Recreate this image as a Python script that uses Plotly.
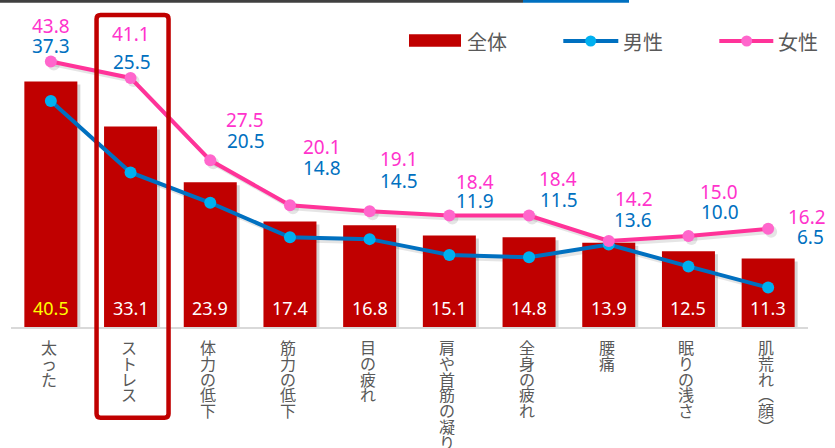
import plotly.graph_objects as go

# ---------------- data ----------------
categories = ["太った", "ストレス", "体力の低下", "筋力の低下", "目の疲れ",
              "肩や首筋の凝り", "全身の疲れ", "腰痛", "眠りの浅さ", "肌荒れ（顔）"]
total = [40.5, 33.1, 23.9, 17.4, 16.8, 15.1, 14.8, 13.9, 12.5, 11.3]
male = [37.3, 25.5, 20.5, 14.8, 14.5, 11.9, 11.5, 13.6, 10.0, 6.5]
female = [43.8, 41.1, 27.5, 20.1, 19.1, 18.4, 18.4, 14.2, 15.0, 16.2]
series_names = ["全体", "男性", "女性"]
highlight_index = 1

# ---------------- layout constants ----------------
W, H = 835, 448
L, R, T, B = 11, 27, 20, 121
PLOT_W = W - L - R
PLOT_H = H - T - B
PX_PER_UNIT = 6.06
YMAX = PLOT_H / PX_PER_UNIT
BAND = PLOT_W / len(categories)

BAR_COLOR = "#c00000"
MALE_LINE, MALE_MARK, MALE_TEXT = "#0070c0", "#00b0f0", "#0070c0"
FEM_LINE, FEM_MARK, FEM_TEXT = "#ff3399", "#ff66cc", "#ff33cc"
GRAY_TEXT = "#595959"
NUM_FONT = "Noto Sans, Open Sans, sans-serif"
JP_FONT = "Noto Sans CJK JP, sans-serif"

# label offsets in pixels (relative to the female point)
fem_label_shift = [(0, 36), (0, 44), (35, 40), (32, 58), (29, 52),
                   (26, 34), (29, 37), (25, 42), (31, 44), (39, 12)]
male_label_shift = [(0, 16), (1.5, 16), (36, 19.5), (32, 37), (29, 30),
                    (26, 14.5), (30, 15.5), (24, 20.5), (31.5, 24), (42, -8.5)]
bar_label_colors = ["#ffff00"] + ["#ffffff"] * (len(categories) - 1)

CHAR_STEP = 15.8      # vertical distance between stacked characters
CHAR_SIZE = 16        # glyph size of the category labels


def pxX(x):
    return (x - L) / PLOT_W


def pxY(y):
    return (H - B - y) / PLOT_H


# shadow offsets (pixels)
SDX, SDY = 3, 3
sdx = SDX / BAND
sdy = SDY / PX_PER_UNIT

idx = list(range(len(categories)))
fig = go.Figure()

# ---- shadows (base axes) ----
fig.add_trace(go.Bar(x=idx, y=total, marker=dict(color="rgba(0,0,0,0.16)", line=dict(width=0)),
                     xaxis="x", yaxis="y", hoverinfo="skip", showlegend=False))
for vals in (male, female):
    fig.add_trace(go.Scatter(x=idx, y=vals, mode="lines+markers",
                             line=dict(color="rgba(0,0,0,0.10)", width=4),
                             marker=dict(size=12, color="rgba(0,0,0,0.10)"),
                             xaxis="x", yaxis="y", hoverinfo="skip", showlegend=False))

# ---- main traces ----
fig.add_trace(go.Bar(name=series_names[0], x=categories, y=total,
                     marker=dict(color=BAR_COLOR, line=dict(width=0)),
                     xaxis="x2", yaxis="y2", showlegend=False))
fig.add_trace(go.Scatter(name=series_names[1], x=categories, y=male, mode="lines+markers",
                         line=dict(color=MALE_LINE, width=4),
                         marker=dict(size=12, color=MALE_MARK),
                         xaxis="x2", yaxis="y2", showlegend=False))
fig.add_trace(go.Scatter(name=series_names[2], x=categories, y=female, mode="lines+markers",
                         line=dict(color=FEM_LINE, width=4),
                         marker=dict(size=12, color=FEM_MARK),
                         xaxis="x2", yaxis="y2", showlegend=False))

annotations = []
# bar value labels
for c, v, col in zip(categories, total, bar_label_colors):
    annotations.append(dict(x=c, y=0, xref="x2", yref="y2", text=f"{v:.1f}", showarrow=False,
                            yshift=19.5, yanchor="middle", xanchor="center",
                            font=dict(family=NUM_FONT, size=18, color=col)))
# line value labels
for c, f, m, fs, ms in zip(categories, female, male, fem_label_shift, male_label_shift):
    annotations.append(dict(x=c, y=f, xref="x2", yref="y2", text=f"{f:.1f}", showarrow=False,
                            xshift=fs[0], yshift=fs[1], yanchor="middle", xanchor="center",
                            font=dict(family=NUM_FONT, size=19, color=FEM_TEXT)))
    annotations.append(dict(x=c, y=f, xref="x2", yref="y2", text=f"{m:.1f}", showarrow=False,
                            xshift=ms[0], yshift=ms[1], yanchor="middle", xanchor="center",
                            font=dict(family=NUM_FONT, size=19, color=MALE_TEXT)))

# vertical category labels (upright characters stacked top to bottom, one text per label)
vert_map = {"（": "︵", "）": "︶"}
for c in categories:
    text = "<br>".join(f"<span style='font-size:{CHAR_SIZE}px'>{vert_map.get(ch, ch)}</span>"
                       for ch in c)
    annotations.append(dict(x=c, y=0, xref="x2", yref="y2", text=text,
                            showarrow=False, xshift=-2, yshift=-7,
                            yanchor="top", xanchor="center", align="center", borderpad=0,
                            font=dict(family=JP_FONT, size=CHAR_STEP / 1.3, color=GRAY_TEXT)))

# custom legend
legend_text_x = [466.7, 622.7, 778.3]
for name, lx in zip(series_names, legend_text_x):
    annotations.append(dict(x=pxX(lx - 2), y=pxY(41.5), xref="paper", yref="paper", text=name,
                            showarrow=False, xanchor="left", yanchor="middle",
                            font=dict(family=JP_FONT, size=20, color=GRAY_TEXT)))

shapes = []
# top decorative strip
shapes.append(dict(type="line", xref="paper", yref="paper", x0=pxX(0), x1=pxX(523),
                   y0=pxY(1.3), y1=pxY(1.3), line=dict(color="#404040", width=3)))
shapes.append(dict(type="line", xref="paper", yref="paper", x0=pxX(523), x1=pxX(629),
                   y0=pxY(1.3), y1=pxY(1.3), line=dict(color="#0070c0", width=3)))
# legend symbols
shapes.append(dict(type="rect", xref="paper", yref="paper", x0=pxX(409), x1=pxX(461),
                   y0=pxY(46.7), y1=pxY(34.3), fillcolor=BAR_COLOR, line=dict(width=0)))
for (x0, x1, xm), lc, mc in (((563.3, 618.3, 590.7), MALE_LINE, MALE_MARK),
                             ((719.3, 773.3, 746.7), FEM_LINE, FEM_MARK)):
    shapes.append(dict(type="line", xref="paper", yref="paper", x0=pxX(x0), x1=pxX(x1),
                       y0=pxY(41), y1=pxY(41), line=dict(color=lc, width=4)))
    shapes.append(dict(type="circle", xref="paper", yref="paper", x0=pxX(xm - 5.5), x1=pxX(xm + 5.5),
                       y0=pxY(46.5), y1=pxY(35.5), fillcolor=mc, line=dict(width=0)))

# highlight box around the "ストレス" column (rounded rectangle)
hc = L + BAND * (highlight_index + 0.5) + 2
bx0, bx1 = pxX(hc - 36), pxX(hc + 36)
by_top, by_bot = pxY(15), pxY(417.7)
rx, ry = 4 / PLOT_W, 4 / PLOT_H
path = (f"M {bx0+rx},{by_top} L {bx1-rx},{by_top} Q {bx1},{by_top} {bx1},{by_top-ry} "
        f"L {bx1},{by_bot+ry} Q {bx1},{by_bot} {bx1-rx},{by_bot} "
        f"L {bx0+rx},{by_bot} Q {bx0},{by_bot} {bx0},{by_bot+ry} "
        f"L {bx0},{by_top-ry} Q {bx0},{by_top} {bx0+rx},{by_top} Z")
shapes.append(dict(type="path", xref="paper", yref="paper", path=path,
                   line=dict(color=BAR_COLOR, width=4.5), layer="above"))

fig.update_layout(
    width=W, height=H,
    margin=dict(l=L, r=R, t=T, b=B, pad=0),
    paper_bgcolor="white", plot_bgcolor="rgba(0,0,0,0)",
    bargap=0.335,
    showlegend=False,
    font=dict(family=NUM_FONT),
    xaxis=dict(domain=[0, 1], anchor="y", range=[-0.5 - sdx, len(categories) - 0.5 - sdx],
               visible=False, fixedrange=True),
    yaxis=dict(domain=[0, 1], anchor="x", range=[sdy, YMAX + sdy], visible=False, fixedrange=True),
    xaxis2=dict(type="category", overlaying="x", anchor="y2", side="bottom",
                range=[-0.5, len(categories) - 0.5],
                showline=True, linecolor="#d9d9d9", linewidth=1.5,
                showticklabels=False, ticks="", showgrid=False, zeroline=False),
    yaxis2=dict(overlaying="y", anchor="x2", range=[0, YMAX], visible=False),
    annotations=annotations,
    shapes=shapes,
)

fig.write_html("out.html")
